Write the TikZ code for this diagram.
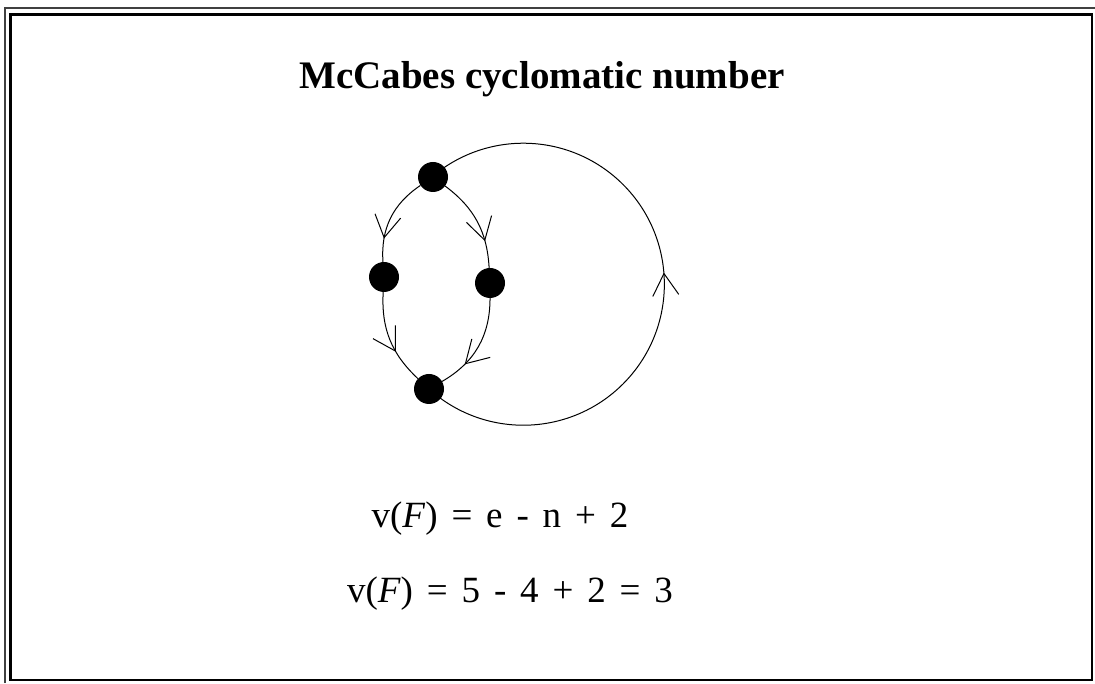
\documentclass[tikz,border=0pt]{standalone}
\usepackage{fontspec}
\setmainfont{Liberation Serif}
\usetikzlibrary{positioning}
\usetikzlibrary{arrows.meta}
\usetikzlibrary{decorations.markings}

\newcommand{\eqfont}{\fontsize{37}{42}\selectfont\spaceskip 0.375em plus 0.1em\relax}

\tikzset{
  vtx/.style={circle, fill=black, inner sep=0pt, minimum size=30pt},
  flow/.style={line width=1pt, postaction={decorate},
    decoration={markings, mark=at position #1 with {\arrow{Straight Barb[length=22pt, width=26pt, line width=1pt]}}}},
  flow/.default=0.6,
  caption/.style={anchor=base, font=\eqfont},
}

\begin{document}
\begin{tikzpicture}[x=1pt, y=1pt]
    \useasboundingbox (0,0) rectangle (1095,683);

    % frame
    \draw[line width=2pt, black!75] (5,0) -- (5,675) -- (1095,675);
    \draw[line width=2.6pt] (10.5,3) rectangle (1092,668.5);

    \node[anchor=base, font=\fontsize{39}{44}\selectfont\bfseries] (title) at (542,594) {McCabes cyclomatic number};

    \node[vtx] (top) at (433,506) {};
    \node[vtx, on grid, below left=100pt and 49pt of top] (left) {};
    \node[vtx, on grid, below right=106pt and 57pt of top] (right) {};
    \node[vtx, on grid, below left=212pt and 4pt of top] (bot) {};

    \draw[flow=0.74] (top) to[bend right=30] (left);
    \draw[flow=0.64] (left) to[bend right=25] (bot);
    \draw[flow=0.72] (top) to[bend left=25] (right);
    \draw[flow=0.72] (right) to[bend left=30] (bot);
    \draw[flow=0.52] (bot.center) arc[start angle=-132, end angle=131, radius=141pt];

    \node[caption] (eqgen) at (500,155) {v(\textit{F}) = e - n + 2};
    \node[caption] (eqval) at (510,81) {v(\textit{F}) = 5 - 4 + 2 = 3};
\end{tikzpicture}
\end{document}
